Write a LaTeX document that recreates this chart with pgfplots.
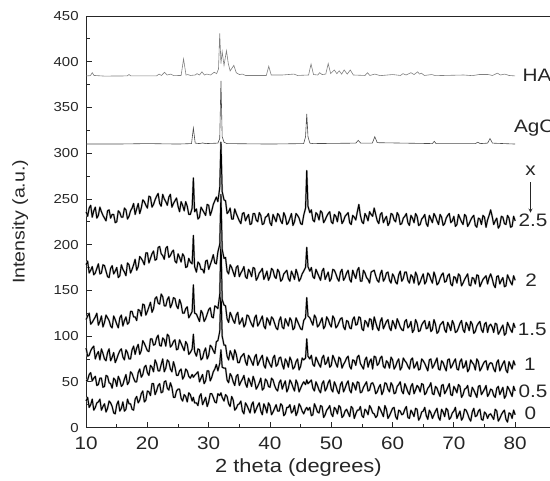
\documentclass[border=0pt]{standalone}
\usepackage{fontspec}
\setmainfont{Liberation Sans}[FakeStretch=1.15]
\usepackage{pgfplots}
\usepackage{pgfplotstable}
\pgfplotsset{compat=1.18}

\pgfplotstableread{
x y0 y05 y1 y15 y2 y25
10 29 51 87 118 178 236
10.25 33 52 78 122 182 231
10.5 22 58 79 125 169 240
10.75 25 60 84 113 172 243
11 31 51 87 115 176 230
11.25 19 54 89 118 167 237
11.5 22 56 75 121 169 241
11.75 27 46 80 125 174 229
12 28 47 83 112 179 232
12.25 31 54 74 116 168 241
12.5 19 54 86 122 169 236
12.75 23 44 81 110 178 232
13 26 45 75 115 177 229
13.25 17 57 73 123 171 226
13.5 21 56 82 120 165 237
13.75 29 49 86 117 164 238
14 27 48 73 111 174 229
14.25 23 43 77 109 177 233
14.5 16 54 82 122 168 233
14.75 15 52 71 118 171 224
15 25 45 75 113 175 225
15.25 29 56 80 109 164 237
15.5 18 52 84 120 166 235
15.75 21 45 86 123 178 230
16 28 47 77 111 173 230
16.25 18 53 74 117 170 240
16.5 20 58 85 121 166 238
16.75 31 47 82 113 180 228
17 26 50 75 115 178 231
17.25 26 61 75 127 169 237
17.5 20 59 85 127 173 240
17.75 19 54 89 121 178 245
18 31 50 80 121 184 233
18.25 34 50 87 117 172 239
18.5 27 60 91 129 176 245
18.75 30 64 80 128 187 234
19 37 55 84 122 185 240
19.25 40 58 95 135 182 249
19.5 28 66 92 134 178 247
19.75 30 68 88 123 191 243
20 40 60 84 127 191 240
20.25 39 57 83 132 180 253
20.5 35 68 97 137 185 252
20.75 48 66 97 126 190 241
21 48 61 90 130 193 244
21.25 36 74 91 141 183 249
21.5 40 70 98 143 184 253
21.75 46 62 101 136 197 256
22 48 62 90 135 198 245
22.25 38 69 89 146 190 242
22.5 39 75 98 143 188 255
22.75 50 61 96 133 184 250
23 51 65 89 133 196 247
23.25 43 74 102 140 198 243
23.5 41 72 100 143 186 252
23.75 49 64 88 131 188 255
24 44 61 90 135 192 241
24.25 33 72 94 142 194 245
24.5 33 66 96 141 182 248
24.75 40 57 85 133 180 251
25 42 57 86 130 190 242
25.25 42 62 96 140 186 236
25.5 32 64 92 135 181 247
25.75 29 53 88 125 190 243
26 36 56 84 125 187 237
26.25 34 64 94 130 175 247
26.5 28 62 91 132 176 242
26.75 38 56 80 120 185 233
27 36 54 82 123 181 233
27.3 29 58 86 127 179 240
27.5 33 55 102 156 210 273
27.7 27 57 83 125 176 236
28 27 59 78 124 170 239
28.25 24 61 86 120 181 228
28.5 34 50 85 116 179 230
28.75 37 54 74 128 173 241
29 25 58 76 125 173 238
29.25 29 48 83 116 169 235
29.5 33 51 87 119 182 232
29.75 23 62 75 124 183 244
30 28 62 79 129 173 243
30.25 37 51 90 131 178 232
30.5 37 55 88 121 183 237
30.75 33 61 84 120 189 244
31 28 64 81 133 180 248
31.25 27 69 94 132 179 252
31.5 37 62 95 130 192 247
31.8 35 70 105 145 200 262
32 38 85 150 205 255 312
32.2 33 66 100 140 195 258
32.5 29 65 90 134 185 249
32.75 36 65 90 133 186 248
33 34 52 78 119 171 234
33.25 26 49 74 115 168 236
33.5 23 59 84 126 178 240
33.75 34 56 80 122 175 228
34 30 50 74 117 170 228
34.25 19 46 85 114 165 239
34.5 21 56 80 123 175 234
34.75 25 58 71 126 177 230
35 26 46 71 113 165 226
35.25 29 50 77 116 169 223
35.5 18 53 79 120 172 234
35.75 15 57 81 110 176 235
36 27 48 72 113 165 226
36.25 24 44 68 123 163 230
36.5 20 54 79 122 173 233
36.75 16 50 76 117 170 222
37 25 45 72 113 165 223
37.25 28 56 68 110 175 234
37.5 16 51 77 120 174 234
37.75 20 42 80 123 161 227
38 24 45 68 111 164 225
38.25 27 49 72 114 169 235
38.5 18 54 76 118 171 232
38.75 14 41 79 122 174 222
39 26 43 68 111 162 223
39.25 22 53 65 108 166 230
39.5 16 51 77 120 171 231
39.75 27 45 73 117 161 234
40 24 44 69 112 165 224
40.25 14 54 66 121 174 221
40.5 17 52 76 119 172 233
40.75 21 46 79 114 165 229
41 25 42 67 109 163 225
41.25 18 40 69 107 173 234
41.5 18 49 76 117 170 232
41.75 26 52 77 121 160 226
42 24 42 69 110 162 223
42.25 13 47 64 108 168 235
42.5 15 51 75 119 170 231
42.75 22 39 72 115 172 222
43 22 43 66 111 163 224
43.25 25 52 77 120 160 229
43.5 16 49 73 117 171 234
43.75 18 44 64 107 167 221
44 24 40 66 109 162 225
44.25 13 52 72 120 173 234
44.5 17 48 75 116 168 232
44.75 26 39 63 112 160 229
45 23 43 67 108 163 223
45.25 18 47 76 107 168 222
45.5 15 50 74 117 171 232
45.8 20 47 76 120 175 240
46 22 52 97 142 197 281
46.2 19 48 78 122 176 242
46.5 22 50 75 120 171 235
46.75 13 52 79 116 175 238
47 14 43 69 112 165 227
47.25 26 40 67 123 163 225
47.5 22 50 77 120 173 235
47.75 17 46 73 110 169 233
48 16 41 69 112 165 227
48.25 24 38 66 116 161 237
48.5 23 48 76 120 171 235
48.75 11 51 79 108 174 224
49 14 40 69 111 162 227
49.25 19 43 71 121 166 231
49.5 21 49 77 118 170 234
49.75 24 52 66 113 160 236
50 15 42 68 110 163 225
50.25 12 39 79 122 173 223
50.5 22 50 75 119 172 233
50.75 20 46 70 109 168 231
51 15 40 66 111 163 225
51.25 24 37 77 115 160 236
51.5 22 47 75 119 170 234
51.75 11 50 65 120 173 223
52 13 39 69 110 161 226
52.25 18 43 72 107 164 231
52.5 20 48 76 117 169 233
52.75 16 51 78 116 172 235
53 12 41 67 109 162 224
53.25 23 38 64 108 159 222
53.5 21 49 74 118 172 232
53.75 10 46 73 121 167 230
54 15 41 68 112 163 227
54.25 19 50 77 113 172 236
54.5 19 49 79 121 175 244
54.75 23 38 70 120 160 232
55 13 39 67 108 160 225
55.25 11 44 64 106 172 223
55.5 20 47 74 117 169 234
55.75 18 50 77 115 164 231
56 14 40 66 110 162 226
56.25 24 41 72 119 158 236
56.5 21 48 75 118 170 233
56.75 16 49 64 107 171 231
57 15 45 78 121 172 240
57.25 11 37 77 115 166 233
57.5 13 39 68 109 161 226
57.75 23 44 70 106 159 223
58 20 47 76 116 168 233
58.25 16 36 78 120 172 235
58.5 12 40 67 108 160 224
58.75 24 49 65 112 163 228
59 20 48 73 116 169 231
59.25 10 42 71 118 170 221
59.5 13 39 65 109 161 224
59.75 17 49 77 106 158 234
60 21 46 74 117 168 233
60.25 22 37 64 113 165 227
60.5 12 38 67 108 159 225
60.75 9 45 72 119 157 235
61 19 47 75 115 167 232
61.25 18 50 63 110 171 222
61.5 14 40 66 107 160 223
61.75 15 37 76 106 163 229
62 20 48 73 116 170 231
62.25 23 44 71 118 170 234
62.5 11 39 67 109 161 224
62.75 10 36 64 111 158 221
63 19 45 74 116 167 232
63.25 16 48 76 104 165 229
63.5 12 37 65 107 158 224
63.75 21 41 68 118 170 234
64 20 46 72 114 166 231
64.25 8 44 63 105 156 221
64.5 11 39 64 106 159 222
64.75 17 48 75 112 164 228
65 18 47 73 115 168 230
65.25 22 36 70 117 157 233
65.5 13 38 66 108 160 223
65.75 9 43 62 109 169 220
66 19 45 74 116 167 232
66.25 16 49 75 105 162 228
66.5 10 37 65 107 158 224
66.75 14 36 68 118 170 234
67 18 45 72 113 165 231
67.25 21 43 76 103 156 226
67.5 11 38 64 105 158 222
67.75 8 34 63 112 163 233
68 20 46 73 114 167 230
68.25 17 47 71 116 169 221
68.5 12 37 66 107 159 223
68.75 21 40 62 104 160 229
69 19 44 74 115 166 232
69.25 9 48 75 111 168 234
69.5 11 36 65 106 157 224
69.75 16 35 68 117 155 226
70 18 45 72 113 165 231
70.25 22 42 75 104 164 220
70.5 10 38 64 105 158 222
70.75 14 47 63 109 168 233
71 18 45 72 114 166 229
71.25 8 33 75 117 155 225
71.5 11 36 65 107 158 222
71.75 20 42 67 104 162 233
72 19 43 73 115 165 231
72.25 15 46 61 112 168 220
72.5 10 35 64 106 156 223
72.75 7 34 74 116 155 227
73 17 44 71 113 164 230
73.25 21 41 69 103 163 232
73.5 12 37 63 105 157 221
73.75 13 33 75 111 167 219
74 18 45 72 114 166 229
74.25 20 46 62 116 154 228
74.5 9 36 65 107 158 222
74.75 8 39 69 104 162 232
75 17 42 72 113 164 230
75.25 15 46 73 115 166 219
75.5 10 34 63 104 157 227
75.75 14 37 69 111 164 232
76 15 42 71 113 168 238
76.25 12 41 70 110 163 231
76.5 9 35 64 104 156 222
76.75 20 33 61 114 153 226
77 18 43 71 113 165 229
77.25 7 45 74 102 166 218
77.5 10 36 62 105 157 221
77.75 14 40 66 109 161 231
78 17 44 70 112 164 230
78.25 19 32 73 101 154 223
78.5 9 35 63 103 155 222
78.75 6 45 60 115 167 232
79 16 42 72 111 163 229
79.25 15 38 68 107 159 219
79.5 10 34 64 104 156 220
79.75 19 45 73 114 166 231
80 14 40 68 109 161 226
}\samples

\newcommand{\lab}{\fontsize{18}{20}\selectfont}

\begin{document}
\begin{tikzpicture}
\useasboundingbox (-86pt,-53pt) rectangle (463.3pt,427pt);
\begin{axis}[
  scale only axis, width=464pt, height=411pt,
  xmin=10, xmax=85.8, ymin=0, ymax=450,
  xtick={10,20,...,80}, ytick={0,50,...,450},
  minor x tick num=1, minor y tick num=1,
  tick align=inside, tick pos=left,
  major tick length=6pt, minor tick length=3.5pt,
  axis line style={black!85, line width=1pt},
  every tick/.append style={black!85, line width=0.8pt},
  /pgf/number format/assume math mode=true,
  x tick label style={font=\fontsize{18}{20}\selectfont, text=black!85, inner sep=1pt, yshift=-8pt},
  y tick label style={font=\fontsize{13}{15}\selectfont, text=black!85, inner sep=1pt, xshift=-6.3pt},
  xlabel={2 theta (degrees)}, ylabel={Intensity (a.u.)},
  xlabel style={font=\fontsize{19}{22}\selectfont, text=black!85, at={(axis description cs:0.457,-0.097)}, anchor=center},
  ylabel style={font=\fontsize{17}{20}\selectfont, text=black!85, at={(axis description cs:-0.142,0.5)}, anchor=center},
  clip=false,
]
% noisy sample patterns: gray halo under black core
\foreach \c in {y0,y05,y1,y15,y2,y25}{
  \addplot[gray!60, line width=1.9pt, line join=round] table[x=x, y=\c] {\samples};
  \addplot[black, line width=1.0pt, line join=round] table[x=x, y=\c] {\samples};
}
% AgC reference
\addplot[black!70, line width=0.6pt] coordinates {
(10,310) (15,310) (20,310.5) (25,310) (27.2,310.5) (27.5,327.5) (27.8,311) (28.5,310.5)
(29,311.2) (29.5,310.5) (31.5,311) (31.8,316) (32.0,379) (32.2,318) (32.5,312) (33,310.5)
(40,310) (45.5,310.5) (45.8,318) (46.0,343) (46.2,318) (46.5,311) (47,310.5) (54,311)
(54.4,314) (54.8,311) (56.7,311) (57.1,318) (57.5,311.5) (66.5,310.5) (66.8,313) (67.1,310.5)
(73.5,310.5) (73.9,312) (74.3,310.5) (75.5,311) (75.9,316) (76.3,311) (80,310)
};
% HA reference
\addplot[black!50, line width=0.6pt] coordinates {
(10,384.5) (10.7,384.8) (11.0,388) (11.3,385) (13,384.3) (16.7,384.5) (17.0,386) (17.3,384.5)
(21.5,384.5) (21.9,386.5) (22.3,385) (22.8,388.5) (23.2,385.5) (23.8,386.5) (24.3,384.8)
(25.5,385) (25.9,403) (26.3,385.5) (26.6,386) (27.0,385) (27.8,385.5) (28.1,387) (28.5,385.5)
(28.9,389) (29.3,385.5) (29.7,386.5) (30.3,385.5) (30.9,388.5) (31.3,387) (31.6,392)
(31.8,431) (32.0,398) (32.2,411) (32.5,396) (32.9,412) (33.2,398) (33.5,390) (34.1,396)
(34.5,388) (35.0,386) (35.5,386.5) (36,385) (39.4,385) (39.8,395) (40.2,385.5) (42,385.5)
(43.9,386.5) (44.5,385) (46.3,385.5) (46.7,397.5) (47.1,386) (47.8,385.5) (48.1,388)
(48.5,386) (49.1,386.5) (49.5,398) (49.9,387) (50.5,391) (50.9,387) (51.3,390) (51.7,386.5)
(52.1,391) (52.6,386.5) (53.1,391) (53.6,385.5) (55.5,385) (55.9,388) (56.3,385) (57.1,386.5)
(58,384.8) (60.0,386) (61.3,385) (61.7,387) (62.2,385.5) (63.0,388) (63.5,386) (64.1,389)
(64.4,386.5) (64.7,387.5) (65.2,385) (66.4,386) (67,384.8) (71.6,385.5) (73,384.8) (74.1,386)
(75.6,386) (76.3,385) (77.1,387.5) (77.6,385.5) (78.3,386.5) (79,385) (80,384.5)
};
% labels
\node[anchor=west, inner sep=0pt, font=\lab, text=black!85] at (axis cs:81.2,385) {HA};
\node[anchor=west, inner sep=0pt, font=\lab, text=black!85] at (axis cs:79.8,327.5) {AgC};
\node[font=\lab, text=black!85] at (axis cs:82.5,281) {x};
\draw[-stealth, black!85, line width=0.8pt] (axis cs:82.5,268) -- (axis cs:82.5,235);
\node[font=\lab, text=black!85] at (axis cs:82.9,227) {2.5};
\node[font=\lab, text=black!85] at (axis cs:82.6,161) {2};
\node[font=\lab, text=black!85] at (axis cs:82.8,107) {1.5};
\node[font=\lab, text=black!85] at (axis cs:82.4,69) {1};
\node[font=\lab, text=black!85] at (axis cs:82.9,40) {0.5};
\node[font=\lab, text=black!85] at (axis cs:82.5,15.3) {0};
\end{axis}
\end{tikzpicture}
\end{document}
